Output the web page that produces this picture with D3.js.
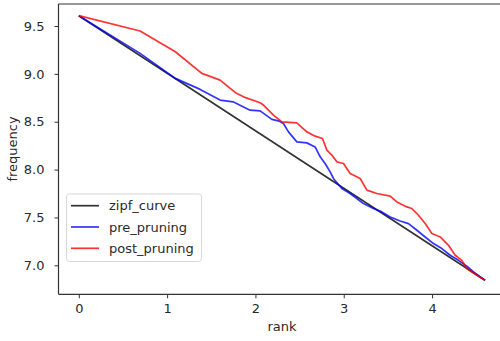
<!DOCTYPE html>
<html>
<head>
<meta charset="utf-8">
<script src="https://cdn.jsdelivr.net/npm/d3@7"></script>
<style>
  body { margin: 0; background: #fff; }
  svg { display: block; font-family: "DejaVu Sans", sans-serif; }
</style>
</head>
<body>
<div id="chart"></div>
<script>
// log(rank) vs log(frequency)
const zipfX = [0, 4.60];
const zipfY = [9.608, 6.843];

const preX = [0, 0.694, 1.093, 1.374, 1.600, 1.747, 1.939, 2.053, 2.186, 2.260, 2.317, 2.374,
  2.469, 2.582, 2.676, 2.733, 2.789, 2.846, 2.883, 2.978, 3.072, 3.148, 3.223, 3.336,
  3.431, 3.526, 3.639, 3.733, 3.828, 3.922, 4.016, 4.111, 4.205, 4.299, 4.394, 4.469, 4.601];
const preY = [9.608, 9.214, 8.953, 8.838, 8.726, 8.708, 8.621, 8.614, 8.524, 8.509, 8.482, 8.394,
  8.290, 8.279, 8.237, 8.133, 8.064, 7.976, 7.907, 7.802, 7.750, 7.698, 7.645, 7.593,
  7.558, 7.505, 7.463, 7.436, 7.366, 7.296, 7.227, 7.175, 7.105, 7.052, 6.990, 6.930, 6.843];

const postX = [0, 0.694, 1.093, 1.393, 1.600, 1.781, 1.864, 2.053, 2.091, 2.204, 2.299, 2.469,
  2.582, 2.676, 2.759, 2.809, 2.865, 2.922, 2.997, 3.072, 3.186, 3.262, 3.375, 3.526,
  3.601, 3.715, 3.771, 3.846, 3.922, 3.998, 4.092, 4.186, 4.262, 4.337, 4.394, 4.451, 4.525, 4.601];
const postY = [9.608, 9.448, 9.231, 9.005, 8.935, 8.799, 8.760, 8.698, 8.674, 8.569, 8.499, 8.488,
  8.394, 8.349, 8.325, 8.203, 8.151, 8.081, 8.064, 7.959, 7.907, 7.785, 7.750, 7.722,
  7.662, 7.610, 7.593, 7.523, 7.436, 7.332, 7.296, 7.209, 7.105, 7.052, 6.965, 6.930, 6.885, 6.843];

const xTicks = [0, 1, 2, 3, 4];
const yTicks = [7.0, 7.5, 8.0, 8.5, 9.0, 9.5];

const seriesNames = ["zipf_curve", "pre_pruning", "post_pruning"];
const seriesColors = ["#000000", "#0000ff", "#ff0000"];

const W = 500, H = 341;
const plot = { left: 58.5, top: 4, right: 505.8, bottom: 294.3 };
const fontSize = "13px";

const svg = d3.select("#chart").append("svg")
  .attr("width", W).attr("height", H);

const x = d3.scaleLinear().domain([-0.23, 4.835]).range([plot.left, plot.right]);
const y = d3.scaleLinear().domain([6.697, 9.73]).range([plot.bottom, plot.top]);

// axes
const xAxis = svg.append("g")
  .attr("transform", `translate(0,${plot.bottom})`)
  .call(d3.axisBottom(x).tickValues(xTicks).tickFormat(d3.format("d"))
    .tickSize(4).tickPadding(5).tickSizeOuter(0));
const yAxis = svg.append("g")
  .attr("transform", `translate(${plot.left},0)`)
  .call(d3.axisLeft(y).tickValues(yTicks).tickFormat(d3.format(".1f"))
    .tickSize(4).tickPadding(10).tickSizeOuter(0));

[xAxis, yAxis].forEach(g => {
  g.select(".domain").remove();
  g.selectAll(".tick line").attr("stroke", "#333").attr("stroke-width", 1);
  g.selectAll(".tick text").attr("fill", "#2a2a2a")
    .style("font-size", fontSize).style("font-family", "DejaVu Sans, sans-serif");
});

// spines (right edge runs past the picture)
svg.append("line").attr("x1", plot.left).attr("x2", plot.left)
  .attr("y1", plot.top).attr("y2", plot.bottom)
  .attr("stroke", "#333").attr("stroke-width", 1.2);
svg.append("line").attr("x1", plot.left).attr("x2", plot.right)
  .attr("y1", plot.top).attr("y2", plot.top)
  .attr("stroke", "#333").attr("stroke-width", 1.2);
svg.append("line").attr("x1", plot.left).attr("x2", plot.right)
  .attr("y1", plot.bottom).attr("y2", plot.bottom)
  .attr("stroke", "#333").attr("stroke-width", 1.2);

// lines
const line = d3.line().x(d => x(d[0])).y(d => y(d[1]));
const seriesData = [
  d3.zip(zipfX, zipfY),
  d3.zip(preX, preY),
  d3.zip(postX, postY)
];

seriesData.forEach((pts, i) => {
  svg.append("path")
    .datum(pts)
    .attr("d", line)
    .attr("fill", "none")
    .attr("stroke", seriesColors[i])
    .attr("stroke-opacity", 0.8)
    .attr("stroke-width", 1.7)
    .attr("stroke-linejoin", "round");
});

// axis labels
svg.append("text")
  .attr("x", 282).attr("y", 331)
  .attr("text-anchor", "middle")
  .attr("fill", "#2a2a2a")
  .style("font-size", fontSize)
  .text("rank");

svg.append("text")
  .attr("transform", `translate(17,149) rotate(-90)`)
  .attr("text-anchor", "middle")
  .attr("fill", "#2a2a2a")
  .style("font-size", fontSize)
  .text("frequency");

// legend
const legend = svg.append("g");
legend.append("rect")
  .attr("x", 66.5).attr("y", 194)
  .attr("width", 135).attr("height", 67.5)
  .attr("rx", 3)
  .attr("fill", "#fff").attr("fill-opacity", 0.8)
  .attr("stroke", "#d8d8d8").attr("stroke-width", 1);

seriesNames.forEach((name, i) => {
  const ly = 205.7 + i * 21.3;
  legend.append("line")
    .attr("x1", 71).attr("x2", 99)
    .attr("y1", ly).attr("y2", ly)
    .attr("stroke", seriesColors[i])
    .attr("stroke-opacity", 0.8)
    .attr("stroke-width", 1.7);
  legend.append("text")
    .attr("x", 109).attr("y", ly)
    .attr("dy", "0.35em")
    .attr("fill", "#2a2a2a")
    .style("font-size", fontSize)
    .text(name);
});
</script>
</body>
</html>
